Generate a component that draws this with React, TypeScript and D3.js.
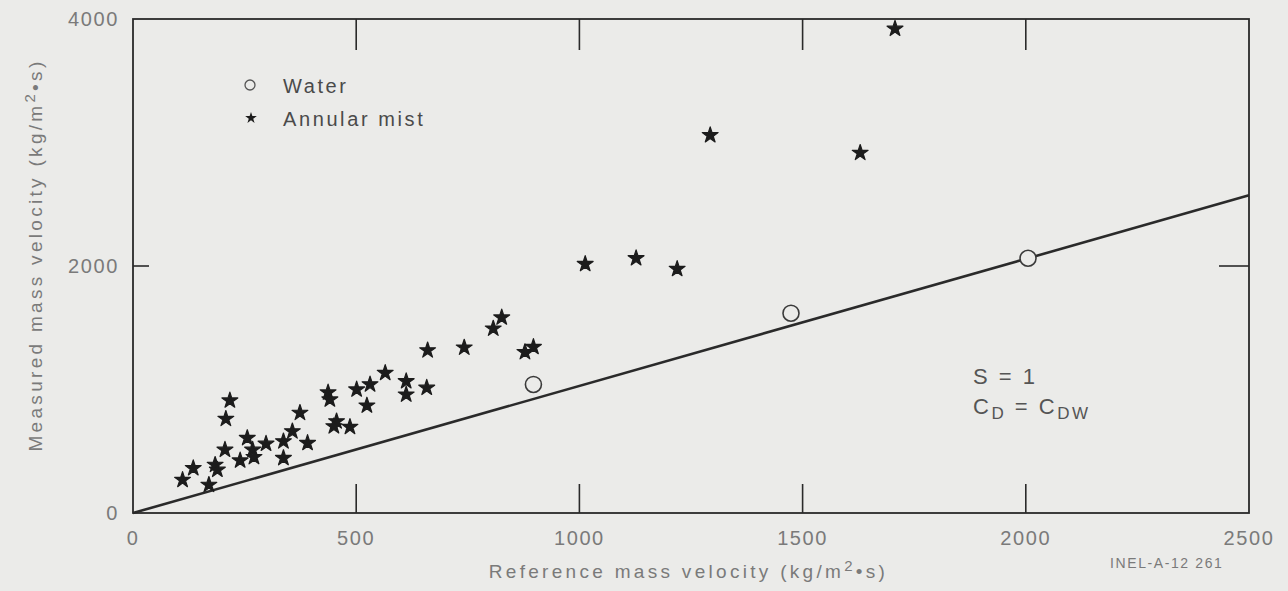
import React from "react";
import * as d3 from "d3";

// Annular mist points (reference, measured) in kg/m2·s
const mistX = [111, 135, 170, 184, 189, 206, 208, 217, 240, 256, 268, 271, 298, 337, 337, 357, 374, 391, 437, 441, 456, 450, 486, 501, 531, 524, 565, 612, 612, 658, 660, 742, 807, 826, 878, 897, 1013, 1127, 1219, 1293, 1629, 1707];
const mistY = [268, 363, 228, 390, 350, 512, 762, 911, 425, 607, 512, 453, 561, 580, 445, 661, 811, 567, 976, 919, 742, 702, 697, 1000, 1041, 870, 1134, 1067, 959, 1014, 1317, 1339, 1493, 1583, 1303, 1344, 2016, 2063, 1976, 3059, 2916, 3921];

// Water points
const waterX = [897, 1474, 2005];
const waterY = [1041, 1618, 2063];

// Reference line endpoints
const lineX = [0, 2500];
const lineY = [0, 2572];

const xTicks = [0, 500, 1000, 1500, 2000, 2500];
const yTicks = [0, 2000, 4000];
const xInnerTicks = [500, 1000, 1500, 2000];
const yInnerTicks = [2000];

const W = 1288;
const H = 591;
const left = 133;
const right = 1249;
const top = 19;
const bottom = 513;

const INK = "#2a2a2a";
const TXT = "#7a7a7a";
const FONT = "'Liberation Sans', Arial, Helvetica, sans-serif";

export default function App() {
  const x = d3.scaleLinear().domain([0, 2500]).range([left, right]);
  const y = d3.scaleLinear().domain([0, 4000]).range([bottom, top]);

  const star = d3.symbol().type(d3.symbolStar).size(78)() as string;
  const starSmall = d3.symbol().type(d3.symbolStar).size(42)() as string;

  const lineGen = d3
    .line<number>()
    .x((d, i) => x(lineX[i]))
    .y((d, i) => y(lineY[i]));

  return (
    <svg
      width={W}
      height={H}
      viewBox={`0 0 ${W} ${H}`}
      style={{ position: "absolute", left: 0, top: 0, display: "block", background: "#ebebe9" }}
    >
      <rect x={0} y={0} width={W} height={H} fill="#ebebe9" />

      {/* frame */}
      <rect
        x={left}
        y={top}
        width={right - left}
        height={bottom - top}
        fill="none"
        stroke={INK}
        strokeWidth={1.8}
      />

      {/* inner ticks */}
      {xInnerTicks.map((t) => (
        <g key={"xt" + t}>
          <line x1={x(t)} x2={x(t)} y1={top} y2={top + 31} stroke={INK} strokeWidth={1.6} />
          <line x1={x(t)} x2={x(t)} y1={bottom} y2={bottom - 29} stroke={INK} strokeWidth={1.6} />
        </g>
      ))}
      {yInnerTicks.map((t) => (
        <g key={"yt" + t}>
          <line x1={left} x2={left + 16} y1={y(t)} y2={y(t)} stroke={INK} strokeWidth={1.6} />
          <line x1={right} x2={right - 30} y1={y(t)} y2={y(t)} stroke={INK} strokeWidth={1.6} />
        </g>
      ))}

      {/* tick labels */}
      {xTicks.map((t) => (
        <text
          key={"xl" + t}
          x={x(t)}
          y={bottom + 32}
          textAnchor="middle"
          fontFamily={FONT}
          fontSize={20}
          letterSpacing={1.6}
          fill={TXT}
        >
          {t}
        </text>
      ))}
      {yTicks.map((t) => (
        <text
          key={"yl" + t}
          x={left - 14}
          y={y(t) + 7}
          textAnchor="end"
          fontFamily={FONT}
          fontSize={20}
          letterSpacing={1.6}
          fill={TXT}
        >
          {t}
        </text>
      ))}

      {/* axis titles */}
      <text
        x={(480 + 897) / 2}
        y={578}
        textAnchor="middle"
        fontFamily={FONT}
        fontSize={19}
        letterSpacing={3.3}
        fill={TXT}
      >
        Reference mass velocity (kg/m
        <tspan dy={-7} fontSize={15}>2</tspan>
        <tspan dy={7}>•s)</tspan>
      </text>
      <text
        transform={`translate(42, 255) rotate(-90)`}
        textAnchor="middle"
        fontFamily={FONT}
        fontSize={19}
        letterSpacing={3.3}
        fill={TXT}
      >
        Measured mass velocity (kg/m
        <tspan dy={-7} fontSize={15}>2</tspan>
        <tspan dy={7}>•s)</tspan>
      </text>

      {/* reference line */}
      <path d={lineGen(lineX) as string} fill="none" stroke={INK} strokeWidth={2.6} />

      {/* water points */}
      {waterX.map((v, i) => (
        <circle
          key={"w" + i}
          cx={x(v)}
          cy={y(waterY[i])}
          r={8}
          fill="#ebebe9"
          stroke="#3a3a3a"
          strokeWidth={1.6}
        />
      ))}

      {/* annular mist points */}
      {mistX.map((v, i) => (
        <path
          key={"m" + i}
          d={star}
          transform={`translate(${x(v)}, ${y(mistY[i])})`}
          fill="#1c1c1c"
          stroke="#1c1c1c"
          strokeWidth={1.2}
          strokeLinejoin="round"
        />
      ))}

      {/* legend */}
      <circle cx={250} cy={85} r={5} fill="none" stroke="#555" strokeWidth={1.3} />
      <text x={283} y={93} fontFamily={FONT} fontSize={20} letterSpacing={2.6} fill="#4a4a4a">
        Water
      </text>
      <path d={starSmall} transform="translate(251, 118)" fill="#1c1c1c" />
      <text x={283} y={126} fontFamily={FONT} fontSize={20} letterSpacing={2.6} fill="#4a4a4a">
        Annular mist
      </text>

      {/* annotation */}
      <text x={973} y={384} fontFamily={FONT} fontSize={22} letterSpacing={2.5} fill="#555">
        S = 1
      </text>
      <text x={973} y={414} fontFamily={FONT} fontSize={22} letterSpacing={2.5} fill="#555">
        C<tspan dy={5} fontSize={17}>D</tspan>
        <tspan dy={-5}> = C</tspan>
        <tspan dy={5} fontSize={17}>DW</tspan>
      </text>

      <text x={1110} y={568} fontFamily={FONT} fontSize={14} letterSpacing={1.6} fill={TXT}>
        INEL-A-12 261
      </text>
    </svg>
  );
}
